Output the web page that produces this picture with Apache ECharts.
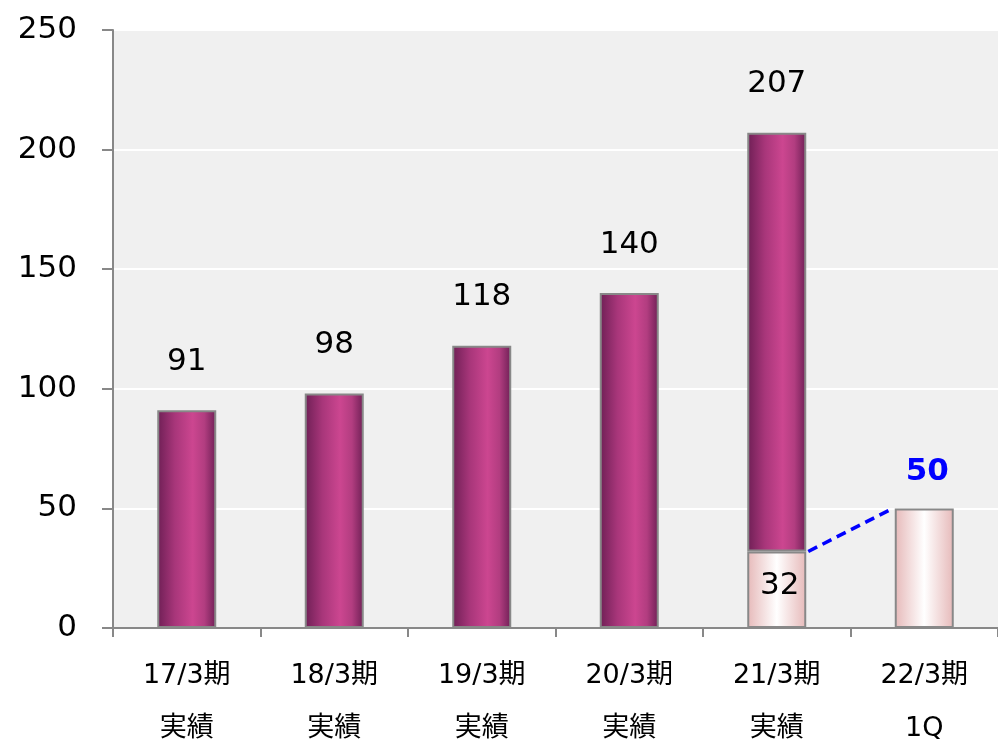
<!DOCTYPE html>
<html><head><meta charset="utf-8">
<script src="https://cdn.jsdelivr.net/npm/echarts@6/dist/echarts.min.js"></script>
<style>html,body{margin:0;padding:0;background:#fff}#c{width:998px;height:743px}</style>
</head><body><div id="c"></div>
<script>
const categories = ['17/3期\n実績','18/3期\n実績','19/3期\n実績','20/3期\n実績','21/3期\n実績','22/3期\n1Q'];
const actualTotals = [91, 98, 118, 140, 207, null];
const q1Values = [null, null, null, null, 32, 50];
const yTicks = {min: 0, max: 250, interval: 50};

const FONT = "'DejaVu Sans','Noto Sans CJK JP',sans-serif";
const upperSeg = actualTotals.map((t, i) => t == null ? null : t - (q1Values[i] || 0));

const purple = {type:'linear',x:0,y:0,x2:1,y2:0,colorStops:[
  {offset:0,color:'#6e1f55'},{offset:0.3,color:'#a8367a'},{offset:0.6,color:'#cc4690'},{offset:0.8,color:'#b23d80'},{offset:1,color:'#6e1f55'}]};
const pink = {type:'linear',x:0,y:0,x2:1,y2:0,colorStops:[
  {offset:0,color:'#e6b9b9'},{offset:0.5,color:'#ffffff'},{offset:1,color:'#e6b9b9'}]};
const BAR_RATIO = 0.4;

const chart = echarts.init(document.getElementById('c'));
chart.setOption({
  animation:false,
  grid:{left:113,right:0,top:30,bottom:115,show:true,backgroundColor:'#f0f0f0',borderWidth:0,
    containLabel:false,outerBoundsMode:'none'},
  xAxis:{type:'category',data:categories,
    axisLine:{lineStyle:{color:'#888',width:2}},
    axisTick:{show:true,length:9,lineStyle:{color:'#888',width:2}},
    axisLabel:{fontFamily:FONT,fontSize:27,color:'#000',lineHeight:53,margin:21}},
  yAxis:{type:'value',min:yTicks.min,max:yTicks.max,interval:yTicks.interval,
    axisLine:{show:true,lineStyle:{color:'#888',width:2}},
    axisTick:{show:true,length:11,lineStyle:{color:'#888',width:2}},
    splitLine:{lineStyle:{color:'#ffffff',width:2}},
    axisLabel:{fontFamily:FONT,fontSize:31,color:'#000',margin:36}},
  series:[
    {type:'bar',stack:'s',data:q1Values,barWidth:'40%',
      itemStyle:{color:pink,borderColor:'#888',borderWidth:2},
      label:{show:true,position:'inside',offset:[3,-4],fontFamily:FONT,fontSize:31,color:'#000',
        formatter:p=>p.dataIndex===4?String(p.value):''}},
    {type:'bar',stack:'s',data:upperSeg,barWidth:'40%',
      itemStyle:{color:purple,borderColor:'#888',borderWidth:2},
      label:{show:true,position:'top',distance:33,fontFamily:FONT,fontSize:31,color:'#000',
        formatter:p=>actualTotals[p.dataIndex]==null?'':String(actualTotals[p.dataIndex])}},
    {type:'bar',stack:'lbl',data:q1Values.map((v,i)=>i===5?v:null),barWidth:'40%',barGap:'-100%',
      itemStyle:{color:'transparent'},silent:true,
      label:{show:true,position:'top',distance:21,offset:[3,0],fontFamily:FONT,fontSize:31,fontWeight:'bold',color:'#0000ff'}},
    {type:'custom',data:[[4,q1Values[4],5,q1Values[5]]],silent:true,z:5,
      renderItem:function(params,api){
        const a=api.coord([api.value(0),api.value(1)]);
        const b=api.coord([api.value(2),api.value(3)]);
        const bw=api.size([1,0])[0]*BAR_RATIO;
        return {type:'line',shape:{x1:a[0]+bw/2+2,y1:a[1],x2:b[0]-bw/2-2,y2:b[1]},
          style:{stroke:'#0000ff',lineWidth:3.5,lineDash:[10,6]}};
      }}
  ]
});
</script></body></html>
